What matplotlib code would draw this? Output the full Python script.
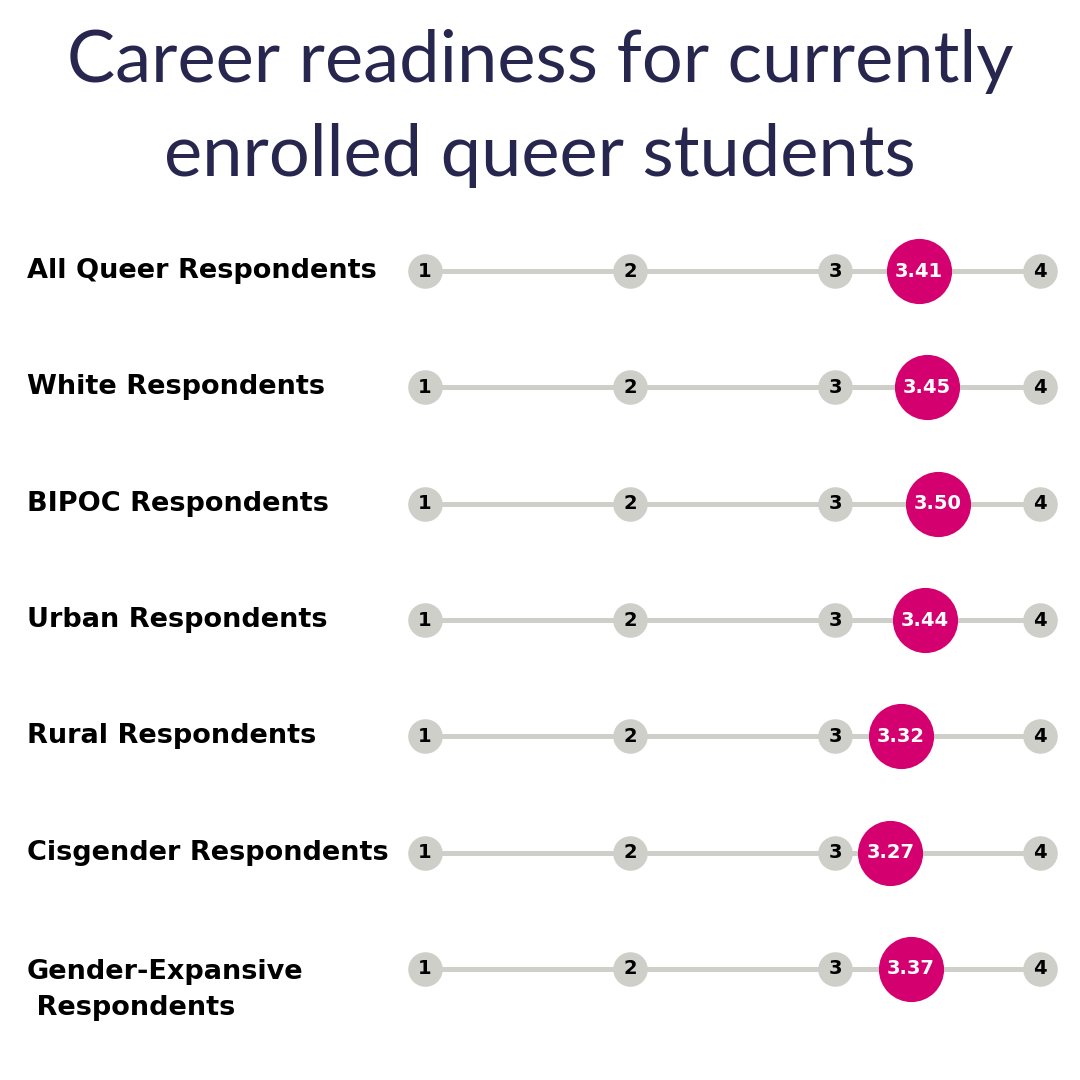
import numpy as np
import matplotlib.pyplot as plt

# dati
groups = ['All Queer Respondents', 'White Respondents', 'BIPOC Respondents',
          'Urban Respondents', 'Rural Respondents', 'Cisgender Respondents',
          'Gender-Expansive\n Respondents']
scores = [3.41, 3.45, 3.50, 3.44, 3.32, 3.27, 3.37]
scale_ticks = [1, 2, 3, 4]

NAVY = '#27264f'
PINK = '#d4006f'
GREY = '#cfcfca'

fig = plt.figure(figsize=(10.8, 10.8), dpi=100)
fig.patch.set_facecolor('white')

# titolo
fig.text(0.5, 1 - 62 / 1080, 'Career readiness for currently', ha='center', va='center',
         fontsize=52, color=NAVY, family='Lato')
fig.text(0.5, 1 - 155 / 1080, 'enrolled queer students', ha='center', va='center',
         fontsize=52, color=NAVY, family='Lato')

# assi: x=1 -> 425px, x=4 -> 1040px ; righe tra 271px e 969px
ax = fig.add_axes([425 / 1080, 1 - 969 / 1080, 615 / 1080, (969 - 271) / 1080])
ax.set_xlim(1, 4)
ax.set_ylim(len(groups) - 1, 0)
ax.axis('off')

for i, (name, val) in enumerate(zip(groups, scores)):
    ax.plot([1, 4], [i, i], color=GREY, lw=3.6, solid_capstyle='butt', zorder=1, clip_on=False)
    ax.scatter(scale_ticks, [i] * len(scale_ticks), s=620, color=GREY, zorder=2, clip_on=False,
               linewidths=0)
    for t in scale_ticks:
        ax.text(t, i, str(t), ha='center', va='center', fontsize=14, fontweight='bold',
                color='black', family='DejaVu Sans', zorder=3)
    ax.scatter([val], [i], s=2200, color=PINK, zorder=4, clip_on=False, linewidths=0)
    ax.text(val, i, f'{val:.2f}', ha='center', va='center', fontsize=14, fontweight='bold',
            color='white', family='DejaVu Sans', zorder=5)

    # etichetta a sinistra
    if '\n' in name:
        ax.annotate(name, xy=(27 / 1080, i), xycoords=('figure fraction', 'data'),
                    xytext=(0, -15), textcoords='offset points', ha='left', va='center',
                    fontsize=19.5, fontweight='bold', color='black', family='DejaVu Sans',
                    linespacing=1.5, annotation_clip=False)
    else:
        ax.annotate(name, xy=(27 / 1080, i), xycoords=('figure fraction', 'data'),
                    ha='left', va='center', fontsize=19.5, fontweight='bold', color='black',
                    family='DejaVu Sans', annotation_clip=False)

fig.savefig('out.png', dpi=100, facecolor='white')
